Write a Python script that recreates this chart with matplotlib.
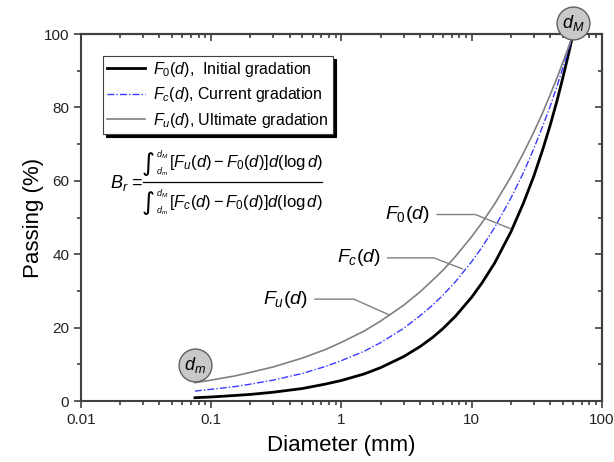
import matplotlib
matplotlib.use('Agg')
import matplotlib.pyplot as plt

plt.rcParams['font.family'] = ['Liberation Sans', 'DejaVu Sans']
plt.rcParams['mathtext.fontset'] = 'custom'
plt.rcParams['mathtext.rm'] = 'Liberation Sans'
plt.rcParams['mathtext.it'] = 'Liberation Sans:italic'
plt.rcParams['mathtext.bf'] = 'Liberation Sans:bold'

# diameters (mm) and passing (%)
diam = [0.075, 0.1, 0.15, 0.2, 0.3, 0.5, 0.75, 1, 1.5, 2, 3, 4, 5, 6, 7.5,
        10, 12, 15, 20, 25, 30, 35, 40, 45, 50, 55, 60]
f_initial = [0.9, 1.1, 1.5, 1.8, 2.4, 3.4, 4.6, 5.6, 7.4, 9.1, 12.1, 14.8, 17.3, 19.7, 23.1,
             28.3, 32.2, 37.6, 46.1, 54.0, 61.3, 68.4, 75.1, 81.6, 88.0, 94.1, 100]
f_current = [2.7, 3.2, 3.9, 4.6, 5.7, 7.5, 9.4, 11.0, 13.6, 15.9, 19.8, 23.2, 26.1, 28.8, 32.5,
             38.0, 41.9, 47.3, 55.3, 62.3, 68.8, 74.8, 80.3, 85.6, 90.7, 95.4, 100]
f_ultimate = [5.0, 5.7, 6.8, 7.8, 9.3, 11.7, 14.0, 16.0, 19.1, 21.8, 26.1, 29.7, 32.9, 35.6, 39.4,
              44.8, 48.6, 53.7, 61.1, 67.6, 73.3, 78.5, 83.4, 87.9, 92.2, 96.2, 100]

xticks = [0.01, 0.1, 1, 10, 100]
xticklabels = ['0.01', '0.1', '1', '10', '100']
yticks = [0, 20, 40, 60, 80, 100]

# where the curve labels point
lab_f0 = (19.7, 47)
lab_fc = (8.5, 36)
lab_fu = (2.35, 23.4)

axcol = '#404040'
W, H = 614, 462


def px(x, y):
    return x / W, 1 - y / H


fig = plt.figure(figsize=(6.14, 4.62), dpi=100)
ax = fig.add_axes([0.1319, 0.132, 0.8485, 0.7944])

ax.plot(diam, f_initial, color='black', lw=2, label=r'$F_0(d)$,  Initial gradation')
ax.plot(diam, f_current, color='#3a3aff', lw=1, dashes=[5, 1.5, 1, 1.5],
        label=r'$F_c(d)$, Current gradation')
ax.plot(diam, f_ultimate, color='#808080', lw=1.2, label=r'$F_u(d)$, Ultimate gradation')

ax.set_xscale('log')
ax.set_xlim(0.01, 100)
ax.set_ylim(0, 100)
ax.set_xticks(xticks, xticklabels)
ax.set_yticks(yticks)
ax.set_yticks(range(10, 100, 20), minor=True)

for s in ax.spines.values():
    s.set_color(axcol)
    s.set_linewidth(1.5)
ax.tick_params(which='both', direction='out', color=axcol, width=1.2,
               labelsize=11, labelcolor='#222222')
ax.tick_params(which='major', length=5)
ax.tick_params(which='minor', length=3)

top = ax.secondary_xaxis('top')
top.tick_params(which='both', direction='in', labeltop=False, color=axcol, width=1.2)
top.tick_params(which='major', length=5)
top.tick_params(which='minor', length=3)
top.set_xticks(xticks)
top.spines['top'].set_color(axcol)
top.spines['top'].set_linewidth(1.5)
right = ax.secondary_yaxis('right')
right.set_yticks(yticks)
right.set_yticks(range(10, 100, 20), minor=True)
right.tick_params(which='both', direction='in', labelright=False, color=axcol, width=1.2)
right.tick_params(which='major', length=5)
right.tick_params(which='minor', length=3)
right.spines['right'].set_color(axcol)
right.spines['right'].set_linewidth(1.5)

ax.set_xlabel('Diameter (mm)', fontsize=16, labelpad=6)
ax.set_ylabel('Passing (%)', fontsize=16, labelpad=0)

leg = ax.legend(loc='upper left', bbox_to_anchor=(0.042, 0.94), borderaxespad=0,
                fontsize=11.5, fancybox=False, edgecolor=axcol, framealpha=1,
                handlelength=2.4, borderpad=0.25, labelspacing=0.4, handletextpad=0.5,
                shadow={'color': 'black', 'alpha': 1})
leg.get_frame().set_linewidth(0.8)

# B_r formula, built from pieces
fig.text(*px(110, 183), r'$B_r$ =', fontsize=13, ha='left', va='center')
fig.add_artist(plt.Line2D([143 / W, 322 / W], [1 - 182 / H] * 2, color='black', lw=0.9))
for yc, body in [(163, r'$[F_u(d)-F_0(d)]d(\log d)$'), (202, r'$[F_c(d)-F_0(d)]d(\log d)$')]:
    fig.text(*px(142, yc + 1), '\u222b', family='DejaVu Sans', fontsize=18,
             ha='left', va='center')
    fig.text(*px(156, yc - 8), r'$d_M$', fontsize=6.5, ha='left', va='center')
    fig.text(*px(156, yc + 9), r'$d_m$', fontsize=6.5, ha='left', va='center')
    fig.text(*px(169, yc), body, fontsize=12, ha='left', va='center')

for txt, xy, off, ang in [(r'$F_0(d)$', lab_f0, (-80, 14), -22),
                          (r'$F_c(d)$', lab_fc, (-82, 11), -21),
                          (r'$F_u(d)$', lab_fu, (-82, 16), -24)]:
    ax.annotate(txt, xy=xy, xytext=off, textcoords='offset pixels',
                ha='right', va='center', fontsize=14,
                arrowprops=dict(arrowstyle='-', color='#808080', lw=1,
                                relpos=(1, 0.5), shrinkA=3, shrinkB=0,
                                connectionstyle='angle,angleA=0,angleB=%d,rad=0' % ang))

# d_m and d_M badges
for xv, yv, t in [(diam[0], 9.8, r'$d_m$'), (diam[-1], 103, r'$d_M$')]:
    ax.scatter([xv], [yv], s=560, color='#c8c8c8', edgecolor='#606060', lw=1,
               clip_on=False, zorder=5)
    ax.text(xv, yv, t, ha='center', va='center', fontsize=13, zorder=6, clip_on=False)

fig.savefig('out.png', dpi=100)
